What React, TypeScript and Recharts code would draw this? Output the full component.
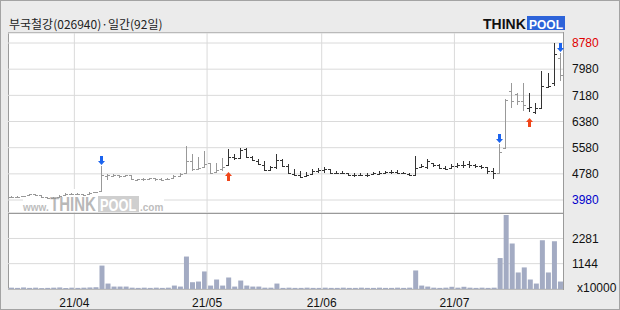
import React from 'react';
import { ComposedChart, BarChart, Bar, XAxis, YAxis, CartesianGrid, ReferenceLine } from 'recharts';

const dates = [
  '03-17','03-18','03-19','03-22','03-23','03-24','03-25','03-26','03-29','03-30','03-31',
  '04-01','04-02','04-05','04-06','04-07','04-08','04-09','04-12','04-13','04-14','04-15','04-16','04-19','04-20','04-21','04-22','04-23','04-26','04-27','04-28','04-29','04-30',
  '05-03','05-04','05-06','05-07','05-10','05-11','05-12','05-13','05-14','05-17','05-18','05-20','05-21','05-24','05-25','05-26','05-27','05-28','05-31',
  '06-01','06-02','06-03','06-04','06-07','06-08','06-09','06-10','06-11','06-14','06-15','06-16','06-17','06-18','06-21','06-22','06-23','06-24','06-25','06-28','06-29','06-30',
  '07-01','07-02','07-05','07-06','07-07','07-08','07-09','07-12','07-13','07-14','07-15','07-16','07-19','07-20','07-21','07-22','07-23','07-26',
];

const opens = [
  4060,4070,4080,4110,4150,4120,4060,4040,4060,4110,4160,4150,4160,4130,4200,4220,
  4700,4720,4740,4700,4730,4600,4610,4620,4640,4620,4600,4640,4720,4800,5170,4940,4990,5100,4830,4920,
  5040,5300,5260,5540,5290,5180,5050,4890,4990,5200,5020,4790,4750,4700,4760,4880,4900,4920,4820,4800,
  4800,4740,4730,4740,4750,4790,4800,4830,4850,4800,4790,4720,4990,5000,5100,5050,4960,4940,5030,5060,
  5080,5040,5020,4980,4880,4800,5560,7300,7230,7000,6800,6660,6780,7420,7560,8330,
];
const highs = [
  4090,4090,4110,4160,4160,4130,4070,4060,4120,4180,4180,4190,4170,4210,4240,5020,
  4770,4770,4760,4760,4740,4630,4640,4660,4650,4640,4650,4760,4800,5630,5380,5300,5480,5120,5120,5250,
  5550,5380,5580,5580,5320,5220,5170,5020,5380,5220,5070,4930,4870,4840,4920,4970,4990,4920,4870,4870,
  4820,4800,4820,4800,4850,4870,4870,4890,4890,4840,4820,5320,5070,5220,5120,5070,5020,5070,5120,5170,
  5170,5070,5050,4990,4970,5680,7060,7560,7260,7560,7260,6950,7920,7870,8780,8480,
];
const lows = [
  4040,4050,4060,4100,4110,4050,4020,4020,4050,4100,4130,4140,4100,4120,4190,4210,
  4580,4690,4650,4680,4580,4560,4570,4580,4570,4570,4590,4630,4690,4790,4870,4910,4970,4770,4820,4880,
  5020,5200,5220,5270,5170,5040,4870,4870,4920,5000,4770,4720,4660,4690,4740,4820,4820,4770,4770,4770,
  4710,4690,4710,4690,4740,4740,4770,4790,4770,4770,4710,4710,4970,4920,4990,4920,4890,4920,4970,4970,
  4970,4950,4920,4790,4610,4790,5540,6800,6870,6700,6680,6600,6760,7400,7460,7610,
];
const closes = [
  4070,4080,4090,4150,4130,4060,4040,4050,4100,4160,4150,4170,4120,4190,4220,4760,
  4740,4740,4700,4740,4600,4610,4620,4640,4620,4600,4630,4720,4790,5170,4920,4970,5080,4790,4900,5000,
  5300,5260,5520,5300,5190,5060,4900,4990,5210,5020,4790,4750,4690,4750,4880,4900,4920,4800,4800,4820,
  4740,4730,4750,4730,4800,4800,4840,4850,4800,4790,4720,4970,5020,5170,5060,4960,4930,5030,5060,5050,
  5040,5020,4990,4880,4800,5440,7040,7000,7000,6900,6820,6780,7460,7460,8430,7790,
];
const volumes = [
  60,50,70,50,60,40,50,60,70,50,60,50,60,70,80,1057,
  246,110,110,110,60,50,60,50,60,50,60,155,110,1465,306,337,792,155,428,155,
  519,110,382,155,110,110,60,60,246,50,60,50,50,60,50,50,60,50,50,60,
  50,50,60,50,50,60,50,50,60,50,60,837,155,110,60,50,60,100,60,100,
  60,50,60,50,60,1397,3340,2052,746,974,428,246,2202,746,2157,337,
];

const buyDates = ['05-07', '07-19'];
const sellDates = ['04-07', '07-12', '07-26'];
const monthStarts = ['04-01', '05-03', '06-01', '07-01'];
const monthLabels = ['21/04', '21/05', '21/06', '21/07'];
const priceTicks = [3980, 4780, 5580, 6380, 7180, 7980, 8780];
const volumeTicks = [1144, 2281];
const priceDomain = [3583, 9086];
const volumeDomain = [0, 3430];

const DARK = '#333333';
const LIGHT = '#999999';
const GRID = '#dadada';
const SANS = "'Liberation Sans', Arial, sans-serif";

let regime = 'sell';
const rows = dates.map((d, i) => {
  const signal = buyDates.includes(d) ? 'buy' : sellDates.includes(d) ? 'sell' : null;
  if (signal) regime = signal;
  return {
    date: d,
    open: opens[i],
    high: highs[i],
    low: lows[i],
    close: closes[i],
    range: [lows[i], highs[i]],
    volume: volumes[i],
    signal,
    color: regime === 'buy' ? DARK : LIGHT,
  };
});

const OhlcShape = (props: any) => {
  const { x, y, width, height, payload } = props;
  if (!payload) return <g />;
  const { open, high, low, close, color, signal } = payload;
  const cx = Math.floor(x + width / 2);
  const py = (p: number) => y + ((high - p) / (high - low)) * height;
  const top = Math.round(y);
  const bot = Math.round(y + height);
  const oy = Math.round(py(open));
  const cy = Math.round(py(close));
  const parts: any[] = [
    <rect key="v" x={cx} y={top} width={1} height={Math.max(1, bot - top)} fill={color} />,
    <rect key="o" x={cx - 2} y={Math.min(oy, bot - 1)} width={2} height={1} fill={color} />,
    <rect key="c" x={cx + 1} y={Math.min(cy, bot - 1)} width={2} height={1} fill={color} />,
  ];
  if (signal === 'sell') {
    const tip = top - 1;
    parts.push(<rect key="as" x={cx - 1} y={tip - 9} width={3} height={5} fill="#1b63ee" />);
    parts.push(<polygon key="ah" points={`${cx - 3},${tip - 4} ${cx + 4},${tip - 4} ${cx + 0.5},${tip}`} fill="#1b63ee" />);
  } else if (signal === 'buy') {
    const tip = bot + 6;
    parts.push(<polygon key="bh" points={`${cx - 3},${tip + 4} ${cx + 4},${tip + 4} ${cx + 0.5},${tip}`} fill="#f0461a" />);
    parts.push(<rect key="bs" x={cx - 1} y={tip + 4} width={3} height={5} fill="#f0461a" />);
  }
  return <g>{parts}</g>;
};

const AxisTick = (props: any) => {
  const { x, y, payload } = props;
  const v = payload.value;
  const fill = v === priceTicks[priceTicks.length - 1] ? '#e00000' : v === priceTicks[0] ? '#0000cc' : '#111111';
  return (
    <text x={x} y={y} dy="0.36em" textAnchor="start" fontSize={12} fontFamily={SANS} fill={fill}>
      {v}
    </text>
  );
};

const VolTick = (props: any) => {
  const { x, y, payload } = props;
  return (
    <text x={x} y={y} dy="0.36em" textAnchor="start" fontSize={12} fontFamily={SANS} fill="#111111">
      {payload.value}
    </text>
  );
};

const abs: React.CSSProperties = { position: 'absolute', left: 0, top: 0 };

export default function App() {
  return (
    <div style={{ position: 'absolute', left: 0, top: 0, width: 620, height: 310, background: '#ebebeb', border: '1px solid #a3a3a3', boxSizing: 'border-box', overflow: 'hidden' }}>
      <div style={{ position: 'absolute', left: 7, top: 31, width: 556, height: 258, background: '#ffffff', border: '1px solid #9a9a9a', boxSizing: 'border-box' }} />
      <div style={abs}>
        <ComposedChart width={620} height={310} data={rows} margin={{ top: 32, right: 0, bottom: 98, left: 7 }}>
          <CartesianGrid vertical={false} stroke={GRID} />
          <XAxis dataKey="date" hide />
          <YAxis orientation="right" domain={priceDomain} ticks={priceTicks} width={58} axisLine={false} tickLine={false} tickSize={0} tickMargin={9} interval={0} allowDataOverflow tick={<AxisTick />} />
          {monthStarts.map((m) => (
            <ReferenceLine key={m} x={m} position="start" stroke={GRID} />
          ))}
          <Bar dataKey="range" isAnimationActive={false} shape={() => <g />} />
        </ComposedChart>
      </div>
      <svg width={620} height={310} style={abs}>
        <rect x={22} y={188} width={141} height={23} fill="#ffffff" />
        <rect x={97} y={195} width={41} height={16} fill="#cfcfcf" />
        <text transform="translate(22,210) scale(1,1.1)" fontSize={10} fontWeight={700} fontFamily={SANS} fill="#bdbdbd">www.</text>
        <text transform="translate(49,210) scale(1,1.35)" fontSize={15} fontWeight={900} fontFamily={SANS} fill="#b8b8b8">THINK</text>
        <text transform="translate(99,209.5) scale(1,1.3)" fontSize={12.8} fontWeight={900} fontFamily={SANS} fill="#ffffff">POOL</text>
        <text transform="translate(139,210) scale(1,1.1)" fontSize={10} fontWeight={700} fontFamily={SANS} fill="#bdbdbd">.com</text>
      </svg>
      <div style={abs}>
        <ComposedChart width={620} height={310} data={rows} margin={{ top: 32, right: 58, bottom: 98, left: 7 }}>
          <XAxis dataKey="date" hide />
          <YAxis hide domain={priceDomain} allowDataOverflow />
          <Bar dataKey="range" isAnimationActive={false} shape={<OhlcShape />} />
        </ComposedChart>
      </div>
      <div style={abs}>
        <BarChart width={620} height={310} data={rows} margin={{ top: 212, right: 0, bottom: 22, left: 7 }} barSize={5}>
          <CartesianGrid vertical={false} stroke={GRID} />
          <XAxis dataKey="date" hide />
          <YAxis orientation="right" domain={volumeDomain} ticks={volumeTicks} width={58} axisLine={false} tickLine={false} tickSize={0} tickMargin={9} interval={0} allowDataOverflow tick={<VolTick />} />
          {monthStarts.map((m, i) => (
            <ReferenceLine key={m} x={m} position="start" stroke={GRID} label={{ value: monthLabels[i], position: 'bottom', offset: 9, fill: '#111111', fontSize: 12, fontFamily: SANS }} />
          ))}
          <Bar dataKey="volume" fill="#a3abc3" isAnimationActive={false} />
        </BarChart>
      </div>
      <div style={{ position: 'absolute', left: 7, top: 212, width: 556, height: 1, background: '#9a9a9a' }} />
      <svg width={620} height={310} style={abs}>
        <text x={8} y={27.5} fontSize={12} fontFamily="'Noto Sans CJK KR', sans-serif" fill="#222222">부국철강(026940)·일간(92일)</text>
        <rect x={526} y={15} width={38} height={14} fill="#2d63d9" />
        <text transform="translate(482,27.5) scale(1,1.05)" fontSize={14} fontWeight={900} fontFamily={SANS} fill="#111111">THINK</text>
        <text transform="translate(528,27.5) scale(1,1.1)" fontSize={12} fontWeight={900} fontFamily={SANS} fill="#ffffff">POOL</text>
        <text x={576} y={291} fontSize={12} fontFamily={SANS} fill="#111111">x10000</text>
      </svg>
    </div>
  );
}
